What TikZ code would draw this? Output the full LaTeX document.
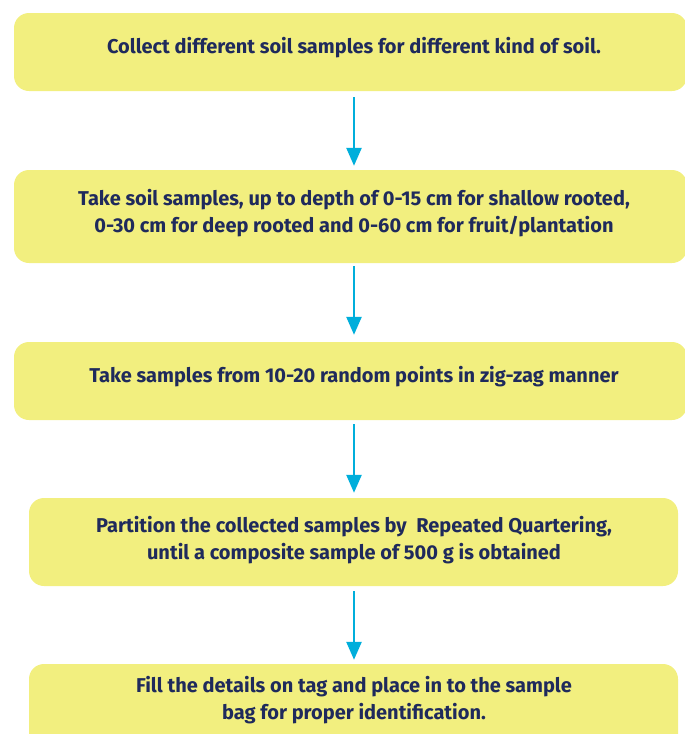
\documentclass[tikz,border=0pt]{standalone}
\usepackage{fontspec}
\setmainfont{Fira Sans}
\usetikzlibrary{arrows.meta}
\definecolor{boxyellow}{HTML}{F2EF7F}
\definecolor{textnavy}{HTML}{1F2A5C}
\definecolor{arrowcyan}{HTML}{00AEDB}
\tikzset{
  stepbox/.style={rectangle, rounded corners=15pt, fill=boxyellow, draw=none, inner sep=0pt},
  steptext/.style={anchor=base, align=center, text=textnavy, inner sep=0pt,
    font=\fontsize{20}{27}\selectfont\bfseries},
  flowarrow/.style={draw=arrowcyan, line width=2.5pt, -{Triangle[length=18pt,width=15pt]}}
}
\begin{document}
\begin{tikzpicture}[x=1pt,y=-1pt]
\useasboundingbox (0,0) rectangle (685,734);
\begin{scope}
\clip (0,0) rectangle (685,734);
\node[stepbox, minimum width=673pt, minimum height=78pt] (b1) at (350.5,52) {};
\node[stepbox, minimum width=673pt, minimum height=93pt] (b2) at (350.5,216.5) {};
\node[stepbox, minimum width=673pt, minimum height=78pt] (b3) at (350.5,381) {};
\node[stepbox, minimum width=649pt, minimum height=88pt] (b4) at (353.5,542) {};
\node[stepbox, minimum width=649pt, minimum height=96pt] (b5) at (353.5,712) {};
\end{scope}
\node[steptext] (t1) at (354,53) {Collect different soil samples for different kind of soil.};
\node[steptext] (t2) at (354,232) {Take soil samples, up to depth of 0-15 cm for shallow rooted,\\0-30 cm for deep rooted and 0-60 cm for fruit/plantation};
\node[steptext] (t3) at (354,382) {Take samples from 10-20 random points in zig-zag manner};
\node[steptext] (t4) at (354,559) {Partition the collected samples by\ \ Repeated Quartering,\\until a composite sample of 500 g is obtained};
\node[steptext] (t5) at (354,719) {Fill the details on tag and place in to the sample\\bag for proper identification.};
\draw[flowarrow, shorten <=6pt, shorten >=4pt] (b1.south -| t1) -- (b2.north -| t1);
\draw[flowarrow, shorten <=3pt, shorten >=7pt] (b2.south -| t1) -- (b3.north -| t1);
\draw[flowarrow, shorten <=4pt, shorten >=5pt] (b3.south -| t1) -- (b4.north -| t1);
\draw[flowarrow, shorten <=5pt, shorten >=4pt] (b4.south -| t1) -- (b5.north -| t1);
\end{tikzpicture}
\end{document}
